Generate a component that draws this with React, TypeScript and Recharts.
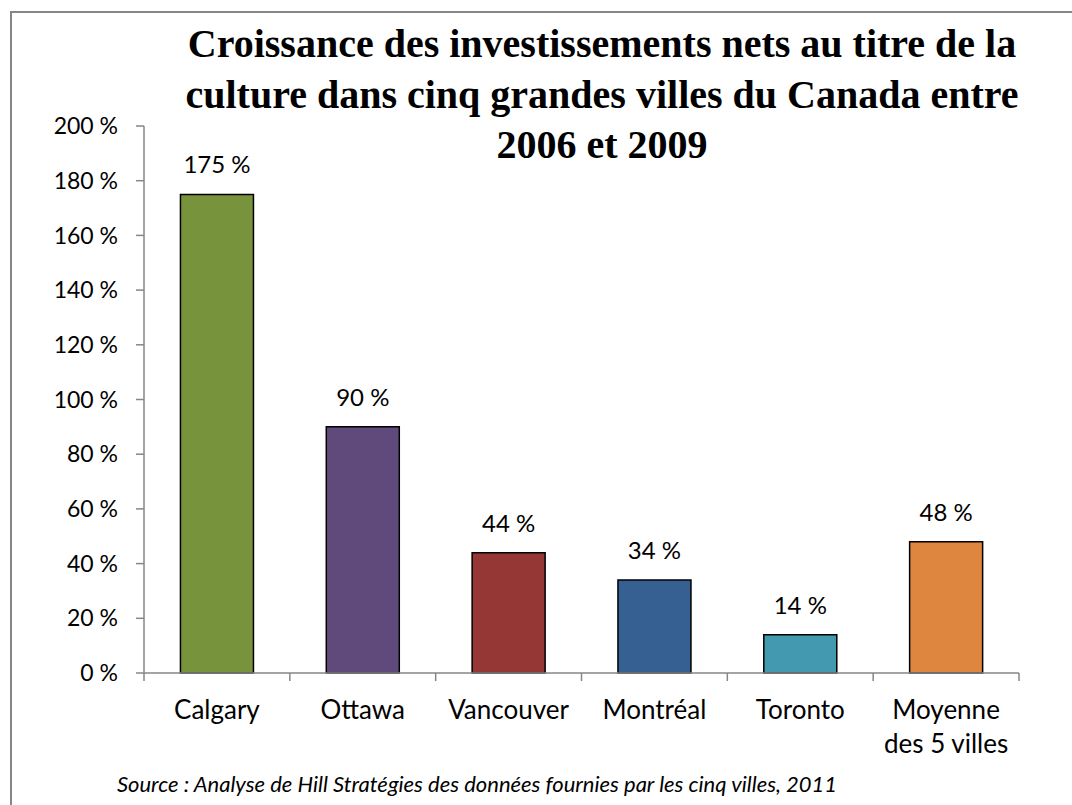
import React from 'react';
import { BarChart, Bar, XAxis, YAxis, Cell, LabelList } from 'recharts';

const cities = ['Calgary', 'Ottawa', 'Vancouver', 'Montréal', 'Toronto', 'Moyenne\ndes 5 villes'];
const growth = [175, 90, 44, 34, 14, 48];
const barColors = ['#77933C', '#604A7B', '#953735', '#376092', '#4399B0', '#DE8540'];
const yTicks = [0, 20, 40, 60, 80, 100, 120, 140, 160, 180, 200];
const titleLines = [
  'Croissance des investissements nets au titre de la',
  'culture dans cinq grandes villes du Canada entre',
  '2006 et 2009',
];
const sourceText = 'Source : Analyse de Hill Stratégies des données fournies par les cinq villes, 2011';

const data = cities.map((city, i) => ({ city, growth: growth[i] }));

const FONT = 'Lato, "Open Sans", sans-serif';
const AXIS = '#868686';

const CategoryTick = (props: any) => {
  const { x, y, payload, width, visibleTicksCount, index } = props;
  const lines = String(payload.value).split('\n');
  let half = 0;
  if (payload && typeof payload.offset === 'number' && payload.offset > 0) half = payload.offset;
  else if (typeof width === 'number' && visibleTicksCount) half = width / visibleTicksCount / 2;
  return (
    <g>
      {half > 0 && (
        <line x1={x - half} x2={x - half} y1={y} y2={y + 8} stroke={AXIS} strokeWidth={1.5} />
      )}
      {half > 0 && index === visibleTicksCount - 1 && (
        <line x1={x + half} x2={x + half} y1={y} y2={y + 8} stroke={AXIS} strokeWidth={1.5} />
      )}
      <text x={x} y={y + 46} textAnchor="middle" fontFamily={FONT} fontSize={26} fill="#000">
        {lines.map((l, i) => (
          <tspan key={i} x={x} dy={i === 0 ? 0 : 34}>
            {l}
          </tspan>
        ))}
      </text>
    </g>
  );
};

export default function App() {
  return (
    <div style={{ position: 'absolute', left: 0, top: 0, width: 1072, height: 805, overflow: 'hidden', background: '#fff' }}>
      <div
        style={{
          position: 'absolute',
          left: 10,
          top: 11,
          width: 1200,
          height: 1000,
          borderTop: `2px solid ${AXIS}`,
          borderLeft: `2px solid ${AXIS}`,
        }}
      />
      <div style={{ position: 'absolute', left: 0, top: 0 }}>
        <BarChart
          width={1072}
          height={805}
          data={data}
          margin={{ top: 126, right: 53, bottom: 72, left: 84 }}
          barCategoryGap="25%"
        >
          <XAxis
            dataKey="city"
            interval={0}
            axisLine={{ stroke: AXIS, strokeWidth: 1.5 }}
            tickLine={false}
            tickSize={0}
            tickMargin={0}
            height={60}
            tick={<CategoryTick />}
          />
          <YAxis
            domain={[0, 200]}
            ticks={yTicks}
            interval={0}
            width={60}
            tickSize={8}
            tickMargin={18}
            tickFormatter={(v: number) => `${v} %`}
            tick={{ fill: '#000', fontSize: 23, fontFamily: FONT }}
            axisLine={{ stroke: AXIS, strokeWidth: 1.5 }}
            tickLine={{ stroke: AXIS, strokeWidth: 1.5 }}
          />
          <Bar dataKey="growth" isAnimationActive={false} stroke="#000" strokeWidth={1.5}>
            {data.map((d, i) => (
              <Cell key={d.city} fill={barColors[i]} />
            ))}
            <LabelList
              dataKey="growth"
              position="top"
              offset={21}
              formatter={(v: any) => `${v} %`}
              fill="#000"
              fontSize={24}
              fontFamily={FONT}
            />
          </Bar>
        </BarChart>
      </div>
      <svg
        width={1072}
        height={805}
        style={{ position: 'absolute', left: 0, top: 0, pointerEvents: 'none' }}
      >
        {titleLines.map((t, i) => (
          <text
            key={i}
            x={602}
            y={57 + i * 50.5}
            textAnchor="middle"
            fontFamily='"Liberation Serif", "DejaVu Serif", serif'
            fontWeight="bold"
            fontSize={40}
            fill="#000"
          >
            {t}
          </text>
        ))}
        <text
          x={477}
          y={792}
          textAnchor="middle"
          fontFamily={FONT}
          fontStyle="italic"
          fontSize={22}
          fill="#000"
        >
          {sourceText}
        </text>
      </svg>
    </div>
  );
}
